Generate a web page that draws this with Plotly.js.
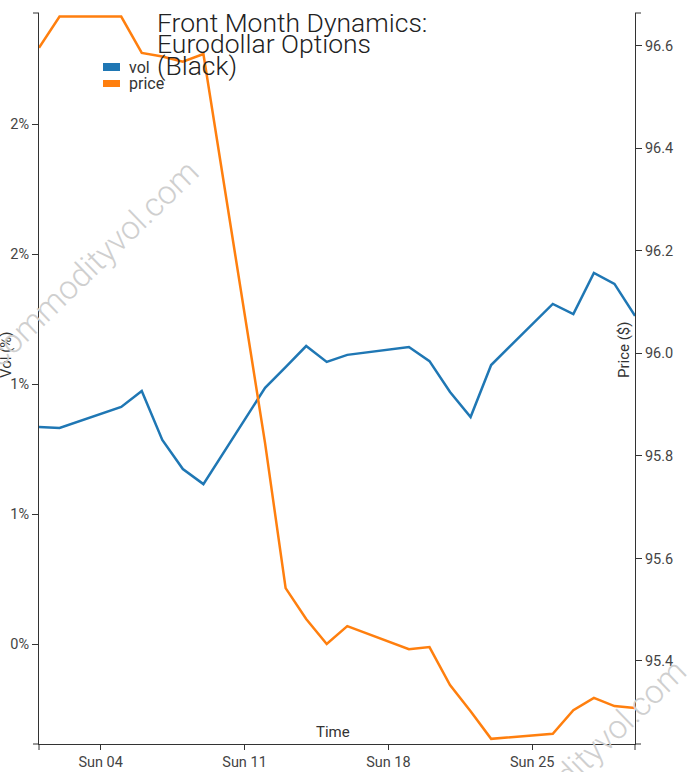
<!DOCTYPE html>
<html>
<head>
<meta charset="utf-8">
<script src="https://cdn.plot.ly/plotly-3.0.1.min.js"></script>
<style>
html,body{margin:0;padding:0;background:#fff;}
#chart{width:687px;height:772px;}
</style>
</head>
<body>
<div id="chart"></div>
<script>
// ---- data ----
const dates = ['2022-09-01','2022-09-02','2022-09-05','2022-09-06','2022-09-07','2022-09-08','2022-09-09',
  '2022-09-12','2022-09-13','2022-09-14','2022-09-15','2022-09-16',
  '2022-09-19','2022-09-20','2022-09-21','2022-09-22','2022-09-23',
  '2022-09-26','2022-09-27','2022-09-28','2022-09-29','2022-09-30'];
const vol = [0.00835,0.00831,0.00912,0.00973,0.00785,0.00673,0.00615,
  0.00985,0.01065,0.01146,0.01085,0.01112,
  0.01142,0.01088,0.00969,0.00873,0.01073,
  0.01308,0.01269,0.01427,0.01385,0.01262];
const price = [96.596,96.657,96.657,96.586,96.579,96.569,96.584,
  95.825,95.542,95.482,95.433,95.468,
  95.423,95.427,95.353,95.302,95.248,
  95.258,95.304,95.328,95.312,95.308];
const volTickVals = [0,0.005,0.01,0.015,0.02];
const volTickText = ['0%','1%','1%','2%','2%'];
const priceTickVals = [95.4,95.6,95.8,96.0,96.2,96.4,96.6];
const priceTickText = ['95.4','95.6','95.8','96.0','96.2','96.4','96.6'];
const titleLines = ['Front Month Dynamics:','Eurodollar Options','(Black)'];
const seriesNames = ['vol','price'];
const colors = ['#1f77b4','#ff7f0e'];

const FONT = 'Roboto, "Open Sans", sans-serif';
const axisCol = '#333';

const traces = [
  {x: dates, y: vol, name: seriesNames[0], type: 'scatter', mode: 'lines',
   line: {color: colors[0], width: 2.5}, yaxis: 'y', showlegend: false, hoverinfo: 'x+y'},
  {x: dates, y: price, name: seriesNames[1], type: 'scatter', mode: 'lines',
   line: {color: colors[1], width: 2.5}, yaxis: 'y2', showlegend: false, hoverinfo: 'x+y'}
];

const W = 596, H = 731; // plot size in px
const px = v => (v - 39) / W;
const py = v => (744 - v) / H;

const annotations = [];
// title lines
const titleY = [22, 43, 65];
titleLines.forEach((t, i) => annotations.push({
  xref: 'paper', yref: 'paper', x: px(155), y: py(titleY[i]), xanchor: 'left', yanchor: 'middle',
  text: t, showarrow: false, font: {family: FONT, size: 26.5, color: '#222', weight: 300}
}));
// legend texts
annotations.push({xref:'paper', yref:'paper', x: px(127), y: py(67), xanchor:'left', yanchor:'middle',
  text: seriesNames[0], showarrow:false, font:{family:FONT, size:16, color:'#333'}});
annotations.push({xref:'paper', yref:'paper', x: px(127), y: py(83), xanchor:'left', yanchor:'middle',
  text: seriesNames[1], showarrow:false, font:{family:FONT, size:16, color:'#333'}});
// axis titles
annotations.push({xref:'paper', yref:'paper', x: px(6), y: py(355), xanchor:'center', yanchor:'middle',
  text: 'Vol (%)', textangle: -90, showarrow:false, font:{family:FONT, size:15, color:'#333'}});
annotations.push({xref:'paper', yref:'paper', x: px(624), y: py(350), xanchor:'center', yanchor:'middle',
  text: 'Price ($)', textangle: -90, showarrow:false, font:{family:FONT, size:15, color:'#333'}});
annotations.push({xref:'paper', yref:'paper', x: px(333), y: py(732), xanchor:'center', yanchor:'middle',
  text: 'Time', showarrow:false, font:{family:FONT, size:15, color:'#333'}});
// watermarks
annotations.push({xref:'paper', yref:'paper', x: px(92), y: py(263), xanchor:'center', yanchor:'middle',
  text: 'commodityvol.com', textangle: -44, showarrow:false, font:{family:FONT, size:33, color:'#cfcfcf', weight:300}});
annotations.push({xref:'paper', yref:'paper', x: px(580), y: py(763), xanchor:'center', yanchor:'middle',
  text: 'commodityvol.com', textangle: -44, showarrow:false, font:{family:FONT, size:33, color:'#cfcfcf', weight:300}});

const tx = 6 / W, ty = 6 / H;
const shapes = [
  // legend swatches
  {type:'rect', xref:'paper', yref:'paper', x0: px(103), x1: px(120), y0: py(71), y1: py(63), fillcolor: colors[0], line:{width:0}},
  {type:'rect', xref:'paper', yref:'paper', x0: px(103), x1: px(120), y0: py(87), y1: py(80), fillcolor: colors[1], line:{width:0}},
  // outer ticks of the axes
  {type:'line', xref:'paper', yref:'paper', x0:-tx, x1:0, y0:1, y1:1, line:{color:axisCol, width:1}},
  {type:'line', xref:'paper', yref:'paper', x0:-tx, x1:0, y0:0, y1:0, line:{color:axisCol, width:1}},
  {type:'line', xref:'paper', yref:'paper', x0:1, x1:1+tx, y0:1, y1:1, line:{color:axisCol, width:1}},
  {type:'line', xref:'paper', yref:'paper', x0:1, x1:1+tx, y0:0, y1:0, line:{color:axisCol, width:1}},
  {type:'line', xref:'paper', yref:'paper', x0:0, x1:0, y0:0, y1:-ty, line:{color:axisCol, width:1}},
  {type:'line', xref:'paper', yref:'paper', x0:1, x1:1, y0:0, y1:-ty, line:{color:axisCol, width:1}}
];

const layout = {
  width: 687, height: 772,
  margin: {l: 39, r: 52, t: 13, b: 28, pad: 0},
  paper_bgcolor: '#fff', plot_bgcolor: '#fff',
  font: {family: FONT, color: '#444'},
  showlegend: false,
  xaxis: {
    type: 'date', range: ['2022-09-01', '2022-09-30'],
    tick0: '2022-09-04', dtick: 7 * 86400000, tickformat: '%a %d',
    showgrid: false, zeroline: false, showline: true, linecolor: axisCol, linewidth: 1,
    ticks: 'outside', ticklen: 5, tickcolor: axisCol,
    tickfont: {family: FONT, size: 14.5, color: '#444'}
  },
  yaxis: {
    range: [-0.003846, 0.024269], tickmode: 'array', tickvals: volTickVals, ticktext: volTickText,
    showgrid: false, zeroline: false, showline: true, linecolor: axisCol, linewidth: 1,
    ticks: 'outside', ticklen: 6, tickcolor: axisCol,
    tickfont: {family: FONT, size: 14.5, color: '#444'}
  },
  yaxis2: {
    overlaying: 'y', side: 'right', range: [95.238, 96.664],
    tickmode: 'array', tickvals: priceTickVals, ticktext: priceTickText,
    showgrid: false, zeroline: false, showline: true, linecolor: axisCol, linewidth: 1,
    ticks: 'outside', ticklen: 6, tickcolor: axisCol,
    tickfont: {family: FONT, size: 14.5, color: '#444'}
  },
  annotations: annotations,
  shapes: shapes
};

Plotly.newPlot('chart', traces, layout, {displayModeBar: false, staticPlot: true});
</script>
</body>
</html>
